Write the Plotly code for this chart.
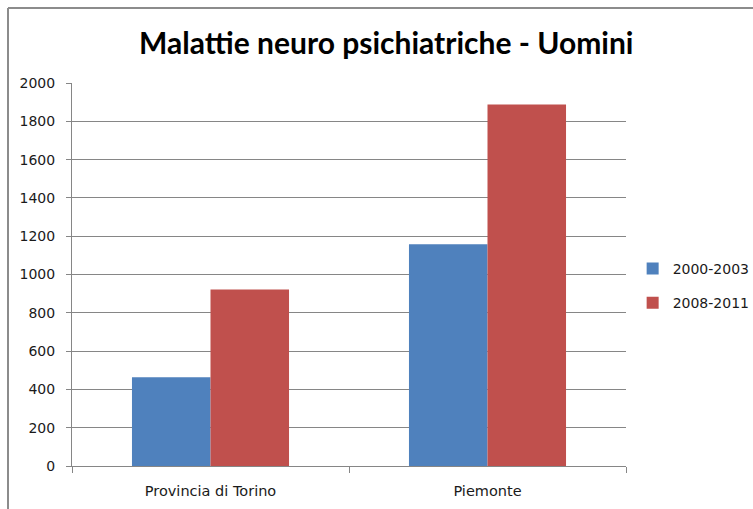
import plotly.graph_objects as go

# dati
categorie = ["Provincia di Torino", "Piemonte"]
periodi = ["2000-2003", "2008-2011"]
valori_2000_2003 = [463, 1158]
valori_2008_2011 = [922, 1888]
tick_y = [0, 200, 400, 600, 800, 1000, 1200, 1400, 1600, 1800, 2000]

COLORI = {
    "2000-2003": "#4f81bd",
    "2008-2011": "#c0504d",
    "griglia": "#868686",
    "bordo": "#8c8c8c",
}

fig = go.Figure()
for nome, valori in zip(periodi, [valori_2000_2003, valori_2008_2011]):
    fig.add_trace(go.Bar(
        x=categorie, y=valori, name=nome,
        legendgroup=nome,
        marker_color=COLORI[nome],
        marker_line_width=0,
    ))

fig.update_layout(
    width=753, height=509,
    margin={"l": 72, "r": 127, "t": 83, "b": 43, "autoexpand": False},
    paper_bgcolor="white", plot_bgcolor="white",
    barmode="group", bargap=0.433, bargroupgap=0,
    title={
        "text": "<b>Malattie neuro psichiatriche - Uomini</b>",
        "x": 0.513, "xanchor": "center",
        "y": 0.915, "yanchor": "middle",
        "font": {"family": "Lato", "size": 30, "color": "black"},
    },
    font={"family": "DejaVu Sans", "size": 12, "color": "#1a1a1a"},
    legend={
        "x": 1.012, "xanchor": "left",
        "y": 0.47, "yanchor": "middle",
        "tracegroupgap": 13,
        "font": {"family": "DejaVu Sans", "size": 14},
        "itemwidth": 30,
    },
    showlegend=True,
)

fig.update_yaxes(
    range=[0, 2000], tickvals=tick_y,
    showgrid=True, gridcolor=COLORI["griglia"], gridwidth=1,
    showline=True, linecolor=COLORI["griglia"], linewidth=1,
    ticks="outside", ticklen=5, tickcolor=COLORI["griglia"],
    ticklabelstandoff=8,
    zeroline=False,
    tickfont={"size": 14},
)
fig.update_xaxes(
    showline=True, linecolor=COLORI["griglia"], linewidth=1,
    ticks="outside", tickson="boundaries", ticklen=6, tickcolor=COLORI["griglia"],
    ticklabelstandoff=12,
    tickfont={"size": 14.5},
)

# bordo dell'area grafico (lato sinistro e lato superiore)
x_bordo = (8 - 72) / 554
y_bordo = (466 - 8) / 383
fig.add_shape(type="line", xref="paper", yref="paper",
              x0=x_bordo, x1=x_bordo, y0=-0.3, y1=y_bordo,
              line={"color": COLORI["bordo"], "width": 2})
fig.add_shape(type="line", xref="paper", yref="paper",
              x0=x_bordo, x1=1.3, y0=y_bordo, y1=y_bordo,
              line={"color": COLORI["bordo"], "width": 2})

# la pagina ha un margine di 8px: lo tolgo per allineare la figura all'angolo
fig.write_html(
    "out.html",
    config={"displayModeBar": False},
    post_script="document.body.style.margin='0';",
)
